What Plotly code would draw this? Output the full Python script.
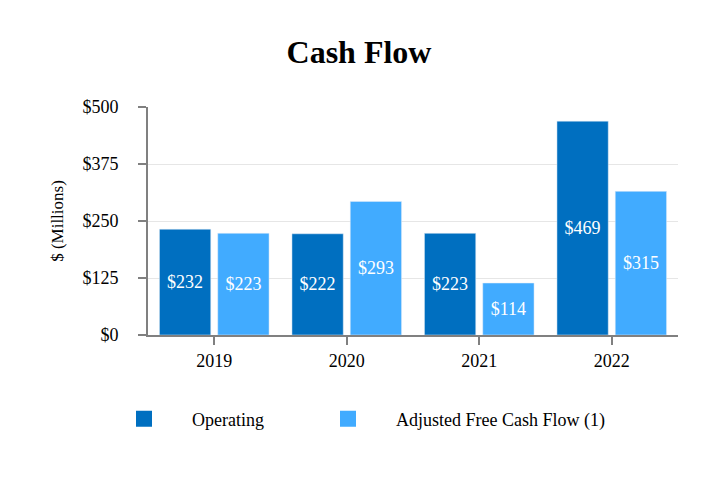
import plotly.graph_objects as go

years = ["2019", "2020", "2021", "2022"]
operating = [232, 222, 223, 469]
adj_fcf = [223, 293, 114, 315]
tick_vals = [0, 125, 250, 375, 500]
tick_text = ["$0", "$125", "$250", "$375", "$500"]

c_op = "#006FC0"
c_fcf = "#41ABFF"
FONT = "Liberation Serif"

fig = go.Figure()
fig.add_trace(go.Bar(x=years, y=operating, name="Operating", marker_color=c_op,
                     text=[f"${v}" for v in operating], textposition="inside",
                     insidetextanchor="middle", textangle=0,
                     textfont=dict(color="white", size=18, family=FONT),
                     showlegend=False, hoverinfo="skip"))
fig.add_trace(go.Bar(x=years, y=adj_fcf, name="Adjusted Free Cash Flow (1)", marker_color=c_fcf,
                     text=[f"${v}" for v in adj_fcf], textposition="inside",
                     insidetextanchor="middle", textangle=0,
                     textfont=dict(color="white", size=18, family=FONT),
                     showlegend=False, hoverinfo="skip"))
# legend entries
fig.add_trace(go.Scatter(x=[None], y=[None], mode="markers", name="Operating", legend="legend",
                         marker=dict(symbol="square", size=18, color=c_op)))
fig.add_trace(go.Scatter(x=[None], y=[None], mode="markers", name="Adjusted Free Cash Flow (1)",
                         legend="legend2", marker=dict(symbol="square", size=18, color=c_fcf)))

L, T, R, B = 140, 99, 48, 153
PW, PH = 718 - L - R, 480 - T - B
IW = 86

fig.update_layout(
    width=718, height=480,
    margin=dict(l=L, r=R, t=T, b=B),
    paper_bgcolor="white", plot_bgcolor="white",
    font=dict(family=FONT, size=18, color="black"),
    title=dict(text="<b>Cash Flow</b>", x=351 / 718, xanchor="center", y=1 - 44/480, yanchor="middle",
               font=dict(size=32, family=FONT, color="black")),
    barmode="group", bargap=0.12, bargroupgap=0.12,
    showlegend=True,
    legend=dict(orientation="h", x=(88 - L) / PW, xanchor="left", y=-84 / PH, yanchor="middle",
                itemwidth=IW, font=dict(size=18, family=FONT)),
    legend2=dict(orientation="h", x=(292 - L) / PW, xanchor="left", y=-84 / PH, yanchor="middle",
                 itemwidth=IW, font=dict(size=18, family=FONT)),
)
fig.update_xaxes(showline=True, linecolor="#808080", linewidth=2, ticks="outside", ticklen=8,
                 tickcolor="#808080", tickwidth=2, showgrid=False)
fig.update_yaxes(range=[0, 500], tickvals=tick_vals, ticktext=tick_text, showline=True, linecolor="#808080",
                 linewidth=2, ticks="outside", ticklen=8, tickcolor="#808080", tickwidth=2,
                 ticklabelstandoff=16,
                 showgrid=True, gridcolor="#E6E6E6", gridwidth=1, zeroline=False,
                 title=dict(text="$ (Millions)", font=dict(size=17, family=FONT), standoff=14))

fig.write_html("out.html")
